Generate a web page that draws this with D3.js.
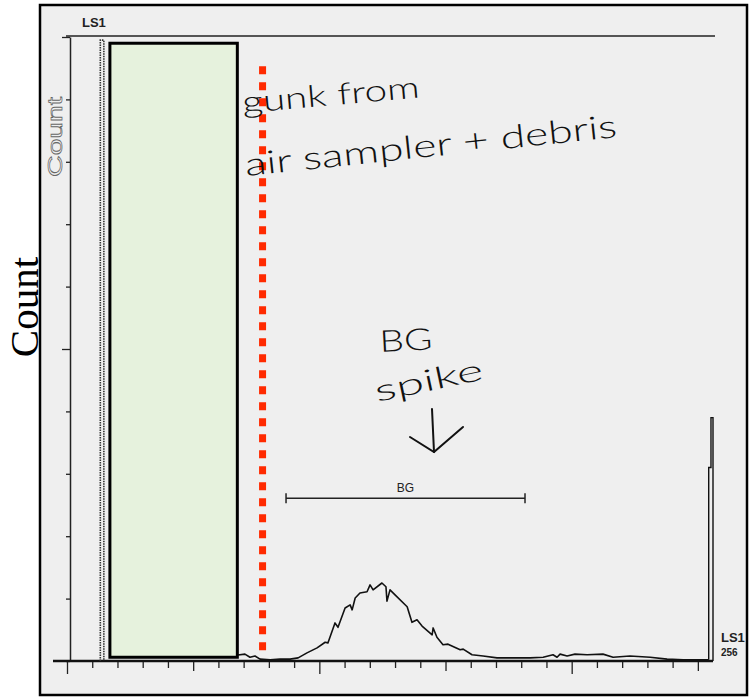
<!DOCTYPE html>
<html>
<head>
<meta charset="utf-8">
<script src="https://cdn.jsdelivr.net/npm/d3@7"></script>
<style>
  body { margin: 0; background: #fff; }
</style>
</head>
<body>
<div id="chart"></div>
<script>
// Histogram outline (channel, count)
const histChannels = [67.8, 70.5, 72.5, 74.5, 76.5, 80.5, 84.4, 88.4, 91.6, 95.1, 99.1, 102.3, 103.4, 106.2, 107.4,
  110.2, 112.2, 113.0, 114.2, 116.1, 118.9, 120.1, 121.3, 124.8, 126.4, 126.8, 128.0, 130.0, 134.8, 136.7, 138.7,
  140.7, 144.7, 145.1, 146.6, 149.0, 151.0, 155.8, 157.0, 160.5, 164.9, 170.4, 176.8, 183.5, 188.7, 192.6, 194.2,
  195.4, 198.2, 201.3, 206.1, 212.4, 216.4, 223.1, 231.1, 237.8, 244.2, 252.1, 254.3];
const histCounts = [0.96, 1.1, 0.6, 0.8, 0.3, 0.2, 0.3, 0.3, 0.5, 1.3, 2.1, 3.0, 2.9, 6.1, 5.4,
  8.5, 9.0, 8.2, 10.1, 10.9, 11.1, 12.2, 11.4, 12.5, 11.9, 9.6, 11.4, 10.6, 8.7, 6.2, 6.6,
  5.6, 4.2, 5.3, 3.8, 2.6, 2.7, 1.8, 1.9, 1.0, 0.8, 0.5, 0.5, 0.5, 0.6, 1.0, 0.6,
  1.1, 0.8, 1.1, 1.0, 1.1, 0.6, 0.8, 0.6, 0.3, 0.2, 0.2, 0.2];

// off-scale spike at low channels (debris) and the pile-up in the last channel
const debrisChannels = [13.2, 13.2, 14.6, 14.6];
const debrisCounts = [0, 99.5, 99.5, 0];
const endChannels = [254.3, 254.3, 255.2, 255.2, 256, 256];
const endCounts = [0.2, 31, 31, 39, 39, 0];

// axes
const xTicks = d3.range(0, 256, 10);
const yTicks = d3.range(0, 101, 10);

// BG gate
const gateName = "BG";
const gateRange = [86.8, 181.5];
const gateLevel = 26.1;

// shaded (masked) region and the red cut-off line
const maskRange = [17, 67.5];
const cutChannel = 77.5;

const svg = d3.select("#chart").append("svg")
  .attr("width", 750)
  .attr("height", 697);

const x = d3.scaleLinear().domain([0, 256]).range([67, 713]);
const y = d3.scaleLinear().domain([0, 100]).range([661, 37]);

// paper + frame
svg.append("rect")
  .attr("x", 40).attr("y", 5)
  .attr("width", 707).attr("height", 690)
  .attr("fill", "#efefef")
  .attr("stroke", "#000")
  .attr("stroke-width", 2.5);

// Big axis label
svg.append("text")
  .attr("transform", "translate(38,307) rotate(-90)")
  .attr("text-anchor", "middle")
  .style("font-family", "Liberation Serif, Times New Roman, serif")
  .style("font-size", "41px")
  .attr("fill", "#000")
  .text("Count");

// printed small label
svg.append("text")
  .attr("transform", "translate(62,137) rotate(-90)")
  .attr("text-anchor", "middle")
  .attr("textLength", 80)
  .attr("lengthAdjust", "spacingAndGlyphs")
  .style("font-family", "Liberation Sans, Arial, sans-serif")
  .style("font-size", "20px")
  .attr("fill", "none")
  .attr("stroke", "#666")
  .attr("stroke-width", 0.7)
  .text("Count");

svg.append("text")
  .attr("x", 82).attr("y", 27)
  .style("font-family", "Liberation Sans, Arial, sans-serif")
  .style("font-size", "13px")
  .style("font-weight", "bold")
  .attr("fill", "#222")
  .text("LS1");

svg.append("text")
  .attr("x", 721).attr("y", 642)
  .style("font-family", "Liberation Sans, Arial, sans-serif")
  .style("font-size", "13px")
  .style("font-weight", "bold")
  .attr("fill", "#222")
  .text("LS1");

svg.append("text")
  .attr("x", 721).attr("y", 656)
  .style("font-family", "Liberation Sans, Arial, sans-serif")
  .style("font-size", "10px")
  .style("font-weight", "bold")
  .attr("fill", "#222")
  .text("256");

// top frame line of the plot
svg.append("line")
  .attr("x1", x(0) - 1).attr("x2", x(256) + 2)
  .attr("y1", y(100) - 1).attr("y2", y(100) - 1)
  .attr("stroke", "#222")
  .attr("stroke-width", 1.5);

// Eixo Y
const yAxis = svg.append("g")
  .attr("transform", `translate(${x(0) + 3},0)`)
  .call(d3.axisLeft(y).tickValues(yTicks).tickSize(4).tickSizeOuter(0).tickFormat(""));
yAxis.select(".domain").attr("stroke", "#222").attr("stroke-width", 1.5);
yAxis.selectAll(".tick line")
  .attr("stroke", "#222")
  .attr("stroke-width", 1.3)
  .attr("x2", d => (d === 50 || d === 100) ? -8 : -4);

// Eixo X
svg.append("line")
  .attr("x1", 53).attr("x2", x(256))
  .attr("y1", y(0)).attr("y2", y(0))
  .attr("stroke", "#111")
  .attr("stroke-width", 2.5);
const xAxis = svg.append("g")
  .attr("transform", `translate(0,${y(0) + 1})`)
  .call(d3.axisBottom(x).tickValues(xTicks).tickSize(6).tickSizeOuter(0).tickFormat(""));
xAxis.select(".domain").remove();
xAxis.selectAll(".tick line")
  .attr("stroke", "#222")
  .attr("stroke-width", 1.3)
  .attr("y2", d => d % 100 === 0 ? 12 : (d % 50 === 0 ? 9 : 6));

const line = d3.line()
  .x(d => x(d[0]))
  .y(d => y(d[1]));

// debris spike (dotted in the scan)
svg.append("path")
  .datum(debrisChannels.map((c, i) => [c, debrisCounts[i]]))
  .attr("d", line)
  .attr("fill", "none")
  .attr("stroke", "#333")
  .attr("stroke-width", 1.6)
  .attr("stroke-dasharray", "1.5,1");

// histogram
svg.append("path")
  .datum(histChannels.map((c, i) => [c, histCounts[i]]))
  .attr("d", line)
  .attr("fill", "none")
  .attr("stroke", "#111")
  .attr("stroke-width", 1.6)
  .attr("stroke-linejoin", "round");

svg.append("path")
  .datum(endChannels.map((c, i) => [c, endCounts[i]]))
  .attr("d", line)
  .attr("fill", "none")
  .attr("stroke", "#111")
  .attr("stroke-width", 1.4);

// mask box
svg.append("rect")
  .attr("x", x(maskRange[0]))
  .attr("y", y(99))
  .attr("width", x(maskRange[1]) - x(maskRange[0]))
  .attr("height", y(0.6) - y(99))
  .attr("fill", "#e6f2dd")
  .attr("stroke", "#000")
  .attr("stroke-width", 3);

// red cut-off
svg.append("line")
  .attr("x1", x(cutChannel)).attr("x2", x(cutChannel))
  .attr("y1", y(95.3)).attr("y2", y(1.7))
  .attr("stroke", "#ff2a00")
  .attr("stroke-width", 7)
  .attr("stroke-dasharray", "8,8");

// BG gate
const gate = svg.append("g").attr("stroke", "#222").attr("stroke-width", 1.5);
gate.append("line")
  .attr("x1", x(gateRange[0])).attr("x2", x(gateRange[1]))
  .attr("y1", y(gateLevel)).attr("y2", y(gateLevel));
gateRange.forEach(g => {
  gate.append("line")
    .attr("x1", x(g)).attr("x2", x(g))
    .attr("y1", y(gateLevel) - 5).attr("y2", y(gateLevel) + 5);
});
svg.append("text")
  .attr("x", x((gateRange[0] + gateRange[1]) / 2))
  .attr("y", y(gateLevel) - 6)
  .attr("text-anchor", "middle")
  .style("font-family", "Liberation Sans, Arial, sans-serif")
  .style("font-size", "12px")
  .attr("fill", "#222")
  .text(gateName);

// handwritten notes
const hand = "Comic Sans MS, Lato, sans-serif";
function note(txt, px, py, size, len, rot) {
  svg.append("text")
    .attr("transform", `translate(${px},${py}) rotate(${rot})`)
    .attr("textLength", len)
    .attr("lengthAdjust", "spacingAndGlyphs")
    .style("font-family", hand)
    .style("font-size", size + "px")
    .style("font-weight", 300)
    .attr("fill", "#111")
    .text(txt);
}
note("gunk from", 243, 113, 30, 178, -5);
note("air sampler + debris", 246, 176, 32, 374, -6);
note("BG", 380, 352, 30, 53, -3);
note("spike", 377, 402, 30, 110, -12);

// arrow
const arrow = svg.append("g")
  .attr("stroke", "#111")
  .attr("stroke-width", 2)
  .attr("fill", "none")
  .attr("stroke-linecap", "round");
arrow.append("line").attr("x1", 432).attr("y1", 409).attr("x2", 434).attr("y2", 452);
arrow.append("polyline").attr("points", "410,437 434,452 463,427");
</script>
</body>
</html>
